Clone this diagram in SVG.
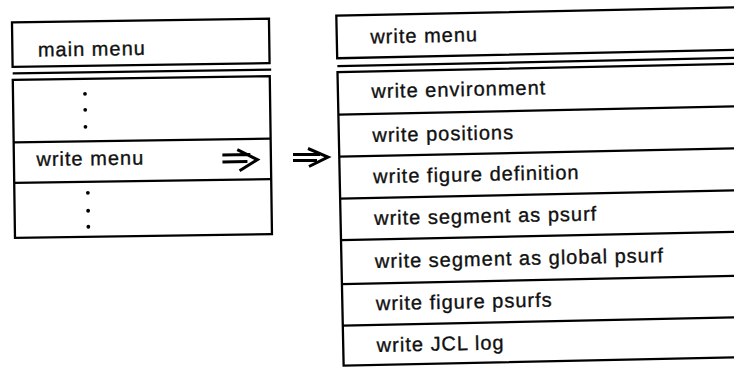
<svg xmlns="http://www.w3.org/2000/svg" width="734" height="367" viewBox="0 0 734 367">
<defs>
<style>
.box{fill:none;stroke:#000;stroke-width:2.3}
.ln{stroke:#000;stroke-width:2.3;fill:none}
.t{font-family:"Liberation Sans",Arial,Helvetica,sans-serif;font-size:20px;letter-spacing:1px;fill:#111;stroke:#111;stroke-width:0.35}
.dot{fill:#000}
.arr{fill:none;stroke:#000;stroke-width:3;stroke-linecap:butt;stroke-linejoin:miter}
</style>
</defs>
<rect width="734" height="367" fill="#fff"/>
<g id="main-menu-panel" transform="rotate(-0.8 143 130)">
  <g id="main-menu">
    <rect class="box" x="13.5" y="20.5" width="257" height="44.5"/>
    <text class="t" x="39" y="55">main menu</text>
  </g>
  <line class="ln" x1="13.5" y1="71.5" x2="272" y2="71.5"/>
  <g id="main-menu-items">
    <rect class="box" x="13.5" y="78" width="257" height="158"/>
    <line class="ln" x1="13.5" y1="140.5" x2="270.5" y2="140.5"/>
    <line class="ln" x1="13.5" y1="181" x2="270.5" y2="181"/>
  </g>
  <g id="dots-upper">
    <circle class="dot" cx="85.5" cy="93" r="1.9"/>
    <circle class="dot" cx="85.5" cy="109" r="1.9"/>
    <circle class="dot" cx="85.5" cy="126" r="1.9"/>
  </g>
  <g id="write-menu-item">
    <text class="t" x="36" y="164.5">write menu</text>
    <path class="arr" d="M222 156 H250 M222 163 H247 M237 151 L257 161.3 L239 172"/>
  </g>
  <g id="dots-lower">
    <circle class="dot" cx="87" cy="192" r="1.9"/>
    <circle class="dot" cx="87" cy="210" r="1.9"/>
    <circle class="dot" cx="87" cy="226" r="1.9"/>
  </g>
</g>
<g id="connectors">
  <path class="arr" d="M293 154.5 H320 M293 160.5 H317 M308 148.5 L328 157 L309 166.5"/>
</g>
<g id="write-menu-panel" transform="rotate(-1.2 540 190)">
  <g id="write-menu">
    <rect class="box" x="340" y="11.5" width="430" height="42.5"/>
    <text class="t" x="373.5" y="40">write menu</text>
  </g>
  <line class="ln" x1="340" y1="62" x2="770" y2="62"/>
  <g id="write-menu-items">
    <rect class="box" x="340" y="68" width="430" height="293.5"/>
    <line class="ln" x1="340" y1="110.5" x2="770" y2="110.5"/>
    <line class="ln" x1="340" y1="152.5" x2="770" y2="152.5"/>
    <line class="ln" x1="340" y1="194.5" x2="770" y2="194.5"/>
    <line class="ln" x1="340" y1="236" x2="770" y2="236"/>
    <line class="ln" x1="340" y1="280" x2="770" y2="280"/>
    <line class="ln" x1="340" y1="321.5" x2="770" y2="321.5"/>
  </g>
  <g id="write-environment"><text class="t" x="373.5" y="94.5">write environment</text></g>
  <g id="write-positions"><text class="t" x="373.5" y="138.5">write positions</text></g>
  <g id="write-figure-definition"><text class="t" x="373.5" y="179.8">write figure definition</text></g>
  <g id="write-segment-as-psurf"><text class="t" x="373.5" y="221.6">write segment as psurf</text></g>
  <g id="write-segment-as-global-psurf"><text class="t" x="373.5" y="264.6">write segment as global psurf</text></g>
  <g id="write-figure-psurfs"><text class="t" x="373.5" y="306.8">write figure psurfs</text></g>
  <g id="write-jcl-log"><text class="t" x="373.5" y="348.5">write JCL log</text></g>
</g>
</svg>
